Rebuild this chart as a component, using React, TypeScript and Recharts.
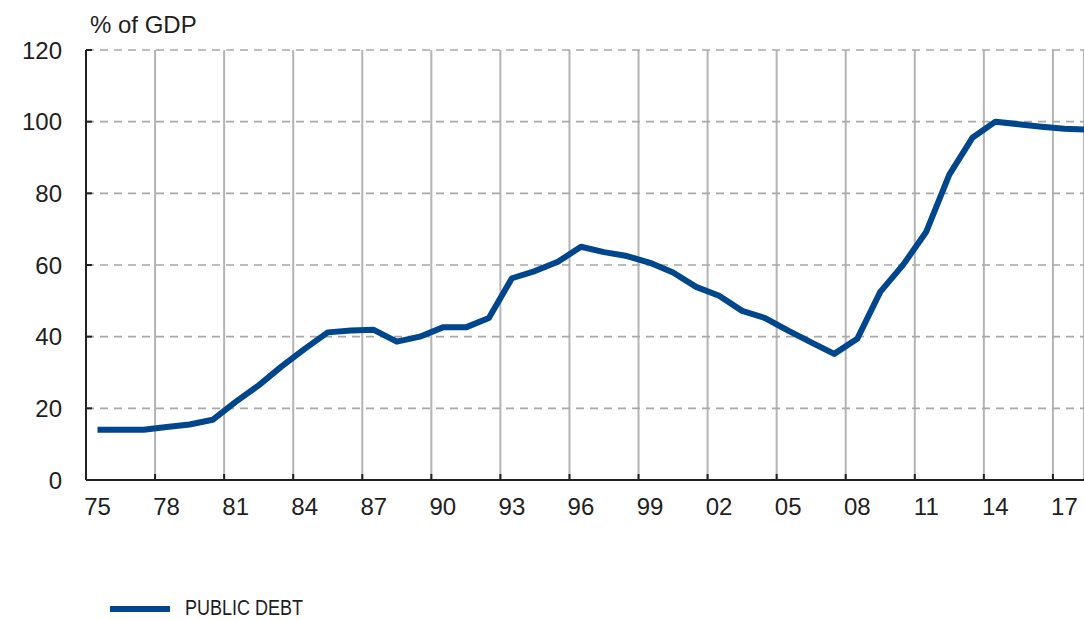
import React from 'react';
import {
  LineChart, Line, XAxis, YAxis, CartesianGrid, Legend,
} from 'recharts';

// Public debt, % of GDP
const years = [
  1975, 1976, 1977, 1978, 1979, 1980, 1981, 1982, 1983, 1984,
  1985, 1986, 1987, 1988, 1989, 1990, 1991, 1992, 1993, 1994,
  1995, 1996, 1997, 1998, 1999, 2000, 2001, 2002, 2003, 2004,
  2005, 2006, 2007, 2008, 2009, 2010, 2011, 2012, 2013, 2014,
  2015, 2016, 2017, 2018,
];
const publicDebt = [
  14.0, 14.0, 14.0, 14.8, 15.5, 16.8, 21.8, 26.4, 31.7, 36.6,
  41.2, 41.7, 41.9, 38.6, 40.0, 42.6, 42.6, 45.2, 56.3, 58.3,
  60.9, 65.1, 63.6, 62.5, 60.6, 57.9, 53.9, 51.4, 47.2, 45.2,
  41.7, 38.4, 35.2, 39.4, 52.5, 60.1, 69.3, 85.2, 95.5, 100.0,
  99.3, 98.6, 98.0, 97.8,
];
const xTicks = [1975, 1978, 1981, 1984, 1987, 1990, 1993, 1996, 1999, 2002, 2005, 2008, 2011, 2014, 2017];
const yTicks = [0, 20, 40, 60, 80, 100, 120];

const W = 1084;
const H = 620;
const Y_AXIS_W = 86;
const X_MIN = 1975;
const X_MAX = 2018.35;
const YEAR_PX = (W - Y_AXIS_W) / (X_MAX - X_MIN);

const BLUE = '#00468c';
const TEXT = '#1e1e1e';
const FONT = '"Liberation Sans", Arial, Helvetica, sans-serif';

// annual observations are plotted mid-year
const data = years.map((y, i) => ({ x: y + 0.5, debt: publicDebt[i] }));

const XTick = (props: any) => {
  const { x, y, payload } = props;
  const label = String(payload.value % 100).padStart(2, '0');
  return (
    <text x={x + YEAR_PX / 2} y={y} dy={17} textAnchor="middle" fill={TEXT} fontSize={24} fontFamily={FONT}>
      {label}
    </text>
  );
};

const LegendContent = () => (
  <svg width={400} height={40} style={{ overflow: 'visible', display: 'block' }}>
    <line x1={110} x2={170} y1={29} y2={29} stroke={BLUE} strokeWidth={6} />
    <text x={185} y={35} fontSize={22} fill={TEXT} fontFamily={FONT} textLength={118} lengthAdjust="spacingAndGlyphs">
      PUBLIC DEBT
    </text>
  </svg>
);

export default function App() {
  return (
    <div style={{ position: 'absolute', left: 0, top: 0, width: W, height: H, background: '#fff', fontFamily: FONT }}>
      <div style={{ position: 'absolute', left: 90, top: 13, fontSize: 24, lineHeight: '24px', color: TEXT }}>
        % of GDP
      </div>
      <LineChart width={W} height={H} data={data} margin={{ top: 50, right: 0, bottom: 0, left: 0 }}>
        <CartesianGrid horizontal={false} vertical stroke="#b4b4b4" strokeWidth={2} />
        <CartesianGrid horizontal vertical={false} stroke="#a8a8a8" strokeWidth={1.6} strokeDasharray="8 6" />
        <XAxis
          type="number"
          dataKey="x"
          domain={[X_MIN, X_MAX]}
          allowDataOverflow
          ticks={xTicks}
          interval={0}
          height={100}
          stroke="#222"
          strokeWidth={2}
          tickSize={-6}
          tickMargin={24}
          tick={<XTick />}
        />
        <YAxis
          type="number"
          domain={[0, 120]}
          ticks={yTicks}
          interval={0}
          width={Y_AXIS_W}
          stroke="#222"
          strokeWidth={2}
          tickSize={-6}
          tickMargin={30}
          tick={{ fill: TEXT, fontSize: 24, fontFamily: FONT }}
        />
        <Legend
          verticalAlign="bottom"
          height={40}
          wrapperStyle={{ left: 0, bottom: 0, width: 400, height: 40 }}
          content={<LegendContent />}
        />
        <Line
          type="linear"
          dataKey="debt"
          stroke={BLUE}
          strokeWidth={6}
          strokeLinejoin="round"
          dot={false}
          isAnimationActive={false}
        />
      </LineChart>
    </div>
  );
}
